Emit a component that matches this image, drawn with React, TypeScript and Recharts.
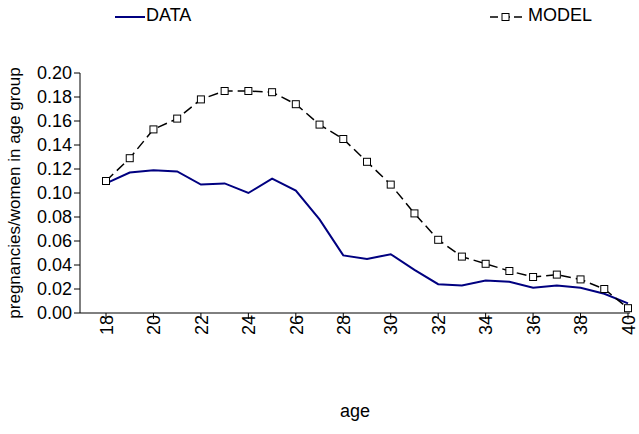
import React from 'react';
import { LineChart, Line, XAxis, YAxis, Legend } from 'recharts';

const ages = [18,19,20,21,22,23,24,25,26,27,28,29,30,31,32,33,34,35,36,37,38,39,40];
const dataSeries = [0.108,0.117,0.119,0.118,0.107,0.108,0.100,0.112,0.102,0.078,0.048,0.045,0.049,0.036,0.024,0.023,0.027,0.026,0.021,0.023,0.021,0.016,0.008];
const modelSeries = [0.110,0.129,0.153,0.162,0.178,0.185,0.185,0.184,0.174,0.157,0.145,0.126,0.107,0.083,0.061,0.047,0.041,0.035,0.030,0.032,0.028,0.020,0.004];
const yTicks = [0,0.02,0.04,0.06,0.08,0.1,0.12,0.14,0.16,0.18,0.2];

const rows = ages.map((a, i) => ({ age: a, DATA: dataSeries[i], MODEL: modelSeries[i] }));
const FONT = 'Liberation Sans';

const Square = (p: any) => (
  <rect x={p.cx - 3.5} y={p.cy - 3.5} width={7} height={7} fill="#fff" stroke="#000" strokeWidth={1} />
);

const LegendContent = () => (
  <div style={{ position: 'relative', height: 30, fontFamily: FONT, fontSize: 18 }}>
    <svg style={{ position: 'absolute', left: 115, top: 12 }} width={30} height={10}>
      <line x1={0} y1={5} x2={30} y2={5} stroke="#000080" strokeWidth={2} />
    </svg>
    <span style={{ position: 'absolute', left: 146, top: 5 }}>DATA</span>
    <svg style={{ position: 'absolute', left: 490, top: 10 }} width={36} height={14}>
      <line x1={0} y1={7} x2={36} y2={7} stroke="#000" strokeWidth={1.5} strokeDasharray="8 4" />
      <rect x={12} y={3.5} width={7} height={7} fill="#fff" stroke="#000" />
    </svg>
    <span style={{ position: 'absolute', left: 528, top: 5 }}>MODEL</span>
  </div>
);

export default function App() {
  return (
    <div style={{ position: 'absolute', left: 0, top: 0, width: 639, height: 434, background: '#fff' }}>
      <LineChart width={639} height={434} data={rows} margin={{ top: 43, right: 9, left: 0, bottom: 21 }}>
        <Legend verticalAlign="top" content={<LegendContent />} wrapperStyle={{ top: 0, left: 0, width: 639 }} />
        <XAxis dataKey="age" interval={1} padding={{ left: 26, right: 2 }} height={100}
          tick={{ angle: -90, textAnchor: 'end', dy: -6, dx: -6, fill: '#000', fontSize: 18, fontFamily: FONT } as any}
          tickLine={{ stroke: '#000' }} axisLine={{ stroke: '#000' }}
          label={{ value: 'age', position: 'insideBottom', offset: -4, fill: '#000', fontSize: 18, fontFamily: FONT }} />
        <YAxis domain={[0, 0.2]} ticks={yTicks} interval={0} width={80} tickFormatter={(v: number) => v.toFixed(2)}
          tick={{ fill: '#000', fontSize: 18, fontFamily: FONT }}
          tickLine={{ stroke: '#000' }} axisLine={{ stroke: '#000' }}
          label={{ value: 'pregnancies/women in age group', angle: -90, position: 'insideLeft', offset: 14, style: { textAnchor: 'middle' }, fill: '#000', fontSize: 17, fontFamily: FONT }} />
        <Line dataKey="DATA" stroke="#000080" strokeWidth={2} dot={false} isAnimationActive={false} />
        <Line dataKey="MODEL" stroke="#000" strokeWidth={1.5} strokeDasharray="10 5" dot={<Square />} isAnimationActive={false} />
      </LineChart>
    </div>
  );
}
